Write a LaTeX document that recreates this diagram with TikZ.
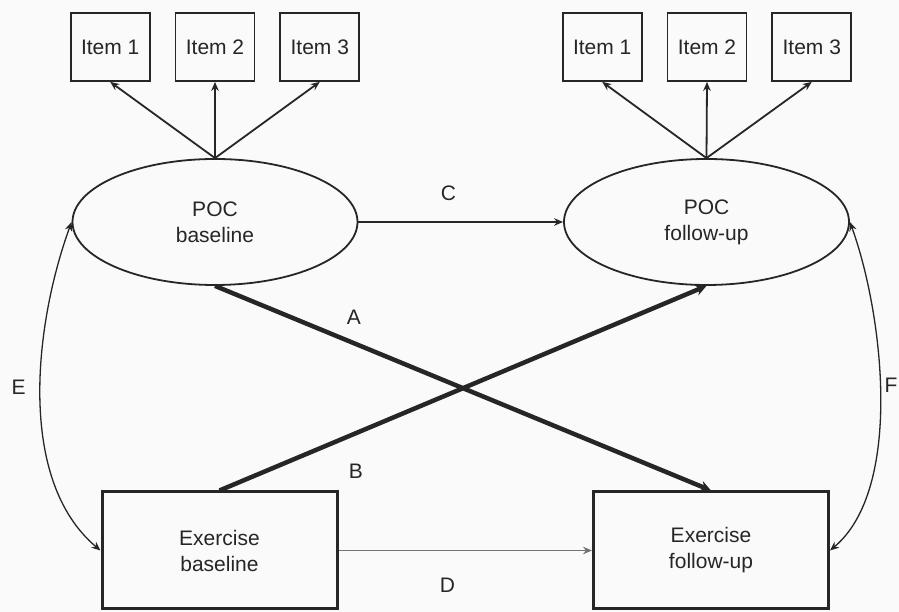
\documentclass[tikz,border=0pt]{standalone}
\usepackage{fontspec}
\setmainfont{Liberation Sans}
\usetikzlibrary{arrows.meta,positioning,shapes.geometric}

\begin{document}
\begin{tikzpicture}[x=1pt,y=1pt,->,>={Stealth[length=9pt,width=7.5pt]},
                    line width=1.8pt,color=black!85,
                    font=\fontsize{21}{26}\selectfont,
                    item/.style={draw,rectangle,minimum width=79pt,
                                 minimum height=68pt,inner sep=0pt},
                    latent/.style={draw,ellipse,minimum width=285pt,
                                   minimum height=126pt,inner sep=0pt,align=center},
                    measured/.style={draw,rectangle,line width=3pt,minimum width=235pt,
                                     minimum height=117pt,align=center},
                    heavy/.style={line width=4.5pt,-{Stealth[length=11pt,width=11pt]}}]

  \fill[black!2] (0,0) rectangle (899,612);
  \useasboundingbox (0,0) rectangle (899,612);

  \node[latent] (PB) at (215,390)   {POC\\baseline};
  \node[latent] (PF) at (706.5,390) {POC\\follow-up};

  \node[item] (B2) at (215,565)       {Item 2};
  \node[item] (B1) [left=24pt of B2]  {Item 1};
  \node[item] (B3) [right=24pt of B2] {Item 3};
  \node[item] (F2) at (707,565)       {Item 2};
  \node[item] (F1) [left=24pt of F2]  {Item 1};
  \node[item] (F3) [right=24pt of F2] {Item 3};

  \node[measured] (EB) at (219.5,61.5) {Exercise\\baseline};
  \node[measured] (EF) at (711,61.5)   {Exercise\\follow-up};

  \path (PB.north) edge (B1.south)
                   edge (B2.south)
                   edge (B3.south)
        (PF.north) edge (F1.south)
                   edge (F2.south)
                   edge (F3.south)
        (PB.east)  edge node[pos=0.44,above=17pt] {C} (PF.west)
        (EB.east)  edge[draw=black!55,line width=1.5pt]
                        node[pos=0.43,below=23pt] {D} (EF.west)
        (PB.south) edge[heavy] node[pos=0.28,above=13pt] {A} (EF.north)
        (EB.north) edge[heavy] node[pos=0.28,below=25pt] {B} (PF.south);

  \draw[<->,line width=1.3pt] (PB.west) to[out=250,in=140,looseness=0.85]
        node[pos=0.47,left=11pt] {E} (EB.west);
  \draw[<->,line width=1.3pt] (PF.east) to[out=290,in=40,looseness=0.75]
        node[pos=0.47,right=4pt,inner sep=0pt] {F} (EF.east);
\end{tikzpicture}
\end{document}
